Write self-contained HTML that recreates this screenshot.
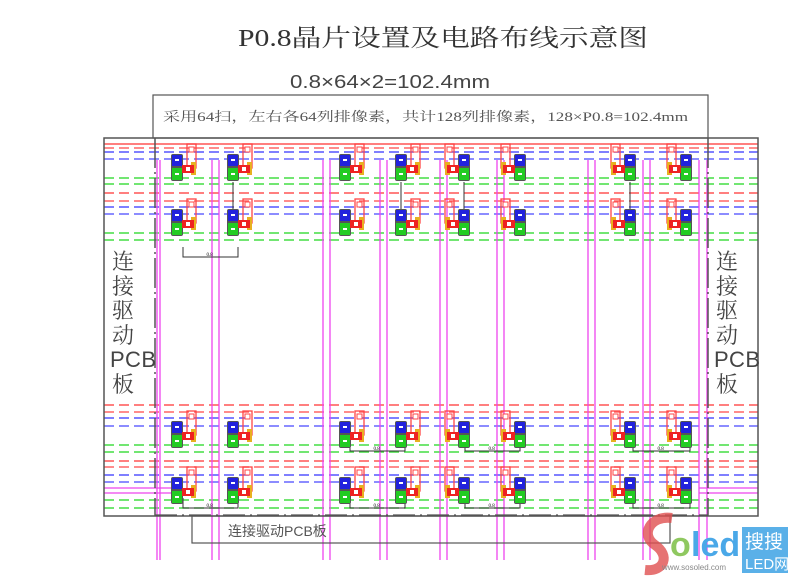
<!DOCTYPE html>
<html><head><meta charset="utf-8">
<style>
html,body{margin:0;padding:0;background:#fff;width:800px;height:587px;overflow:hidden}
svg{display:block}
text{font-family:"Liberation Serif","Noto Serif CJK SC","Noto Sans CJK SC",serif}
text.s{font-family:"Liberation Sans","Noto Sans CJK SC",sans-serif}
</style></head><body>
<svg id="s" width="800" height="587" viewBox="0 0 800 587" xmlns="http://www.w3.org/2000/svg">
<text x="238" y="46" font-size="24" fill="#333" textLength="410" lengthAdjust="spacingAndGlyphs">P0.8晶片设置及电路布线示意图</text>
<text class="s" x="290" y="88" font-size="18" fill="#444" textLength="200" lengthAdjust="spacingAndGlyphs">0.8×64×2=102.4mm</text>
<rect x="153" y="95" width="555" height="43" fill="none" stroke="#555" stroke-width="1.2"/>
<text x="163" y="121" font-size="13" fill="#555" textLength="525" lengthAdjust="spacingAndGlyphs">采用64扫，左右各64列排像素，共计128列排像素，128×P0.8=102.4mm</text>
<g id="lines"></g>
<g id="leds"></g>
<rect x="104" y="138" width="654" height="378" fill="none" stroke="#555" stroke-width="1.5"/>
<line x1="155" y1="138" x2="155" y2="516" stroke="#555" stroke-width="1.5" stroke-dasharray="30,4,2,4"/>
<line x1="708" y1="138" x2="708" y2="516" stroke="#555" stroke-width="1.5" stroke-dasharray="30,4,2,4"/>
<line x1="155" y1="515" x2="708" y2="515" stroke="#555" stroke-width="1.2" stroke-dasharray="22,5,2,5"/>
<rect x="192" y="516" width="478" height="27" fill="none" stroke="#555" stroke-width="1.2"/>
<text class="s" x="228" y="536" font-size="14" fill="#555">连接驱动PCB板</text>
<g font-size="22" fill="#444">
<text x="112" y="269">连</text><text x="112" y="294">接</text><text x="112" y="318">驱</text><text x="112" y="343">动</text><text class="s" x="110" y="367" textLength="46">PCB</text><text x="112" y="392">板</text>
<text x="716" y="269">连</text><text x="716" y="294">接</text><text x="716" y="318">驱</text><text x="716" y="343">动</text><text class="s" x="714" y="367" textLength="46">PCB</text><text x="716" y="392">板</text>
</g>
<g>
<path d="M672 518 C650 515 640 535 655 545 C670 555 665 572 645 570" fill="none" stroke="#e05050" stroke-width="10" opacity="0.8"/>
<text class="s" x="670" y="556" font-size="34" font-weight="bold" fill="#8fc860">o</text>
<text class="s" x="691" y="556" font-size="34" font-weight="bold" fill="#4aa8e8">led</text>
<text class="s" x="662" y="570" font-size="8" fill="#888">www.sosoled.com</text>
<rect x="742" y="527" width="46" height="46" fill="#5ab0e8"/>
<text class="s" x="745" y="548" font-size="19" fill="#fff">搜搜</text>
<text class="s" x="745" y="569" font-size="15" fill="#fff">LED网</text>
</g>
</svg>
<script>
var NS="http://www.w3.org/2000/svg";
function el(p,t,a){var e=document.createElementNS(NS,t);for(var k in a)e.setAttribute(k,a[k]);p.appendChild(e);return e;}
var L=document.getElementById('lines'),D=document.getElementById('leds');
el(L,'line',{x1:104,y1:144,x2:758,y2:144,stroke:'#f55',"stroke-width":1.5});
function h(y,c){el(L,'line',{x1:104,y1:y,x2:758,y2:y,stroke:c,"stroke-width":1.6,"stroke-dasharray":"10,5"});}
[[148,'#f66'],[152,'#55f'],[159,'#66f'],[178,'#4d4'],[184,'#4d4'],[193,'#f55'],[201,'#f66'],[207,'#55f'],[214,'#66f'],[233,'#4d4'],[240,'#4d4'],
 [405,'#f55'],[412,'#f66'],[418,'#55f'],[426,'#66f'],[445,'#4d4'],[452,'#4d4'],[461,'#f55'],[467,'#f66'],[475,'#55f'],[482,'#66f'],[500,'#4d4'],[508,'#4d4']].forEach(function(a){h(a[0],a[1]);});
[157,160,212,219,323,330,380,387,440,447,497,504,588,595,643,650,699,707].forEach(function(x){el(L,'line',{x1:x,y1:160,x2:x,y2:560,stroke:'#e4e',"stroke-width":1.3});});
el(L,'line',{x1:104,y1:488,x2:172,y2:488,stroke:'#e4e',"stroke-width":1.3});
el(L,'line',{x1:104,y1:493,x2:172,y2:493,stroke:'#e4e',"stroke-width":1.3});
el(L,'line',{x1:699,y1:488,x2:758,y2:488,stroke:'#e4e',"stroke-width":1.3});
el(L,'line',{x1:699,y1:493,x2:758,y2:493,stroke:'#e4e',"stroke-width":1.3});
function led(x,y,m){var g=el(D,'g',{transform:m?'translate('+(x+10)+','+y+') scale(-1,1)':'translate('+x+','+y+')'});
 el(g,'rect',{x:15,y:-11,width:9,height:24,fill:'none',stroke:'#f44',"stroke-width":1.3});
 el(g,'rect',{x:17,y:-8,width:5,height:5,fill:'#fff',stroke:'#f44'});
 el(g,'rect',{x:-1,y:-1,width:12,height:27,rx:2,fill:'#555'});
 el(g,'rect',{x:0,y:0,width:10,height:11,fill:'#22d'});
 el(g,'rect',{x:0,y:13,width:10,height:12,fill:'#2c2'});
 el(g,'rect',{x:3,y:4,width:4,height:2,fill:'#fff'});
 el(g,'rect',{x:3,y:18,width:4,height:2,fill:'#fff'});
 el(g,'rect',{x:19,y:7,width:5,height:13,fill:'#e8b020'});
 el(g,'rect',{x:10,y:10,width:12,height:8,fill:'#e22'});
 el(g,'rect',{x:14,y:12,width:4,height:4,fill:'#fff'});
}
var rows=[155,210,422,478];
[172,228,340,396].forEach(function(x){rows.forEach(function(y){led(x,y,false);});});
[459,515,625,681].forEach(function(x){rows.forEach(function(y){led(x,y,true);});});
function dim(x1,x2,y){el(L,'path',{d:'M'+x1+' '+(y-10)+' V'+y+' H'+x2+' V'+(y-10),fill:'none',stroke:'#333',"stroke-width":1});
 var t=el(L,'text',{x:(x1+x2)/2-4,y:y-1,"font-size":5,fill:'#000'});t.textContent='0.8';}
dim(183,238,257);dim(183,238,508);dim(350,405,451);dim(350,405,508);dim(465,520,451);dim(465,520,508);dim(633,690,451);dim(633,690,508);
el(L,'line',{x1:233,y1:182,x2:233,y2:210,stroke:'#333'});el(L,'line',{x1:401,y1:182,x2:401,y2:210,stroke:'#333'});
el(L,'line',{x1:464,y1:182,x2:464,y2:210,stroke:'#333'});el(L,'line',{x1:630,y1:182,x2:630,y2:210,stroke:'#333'});
</script>
</body></html>
